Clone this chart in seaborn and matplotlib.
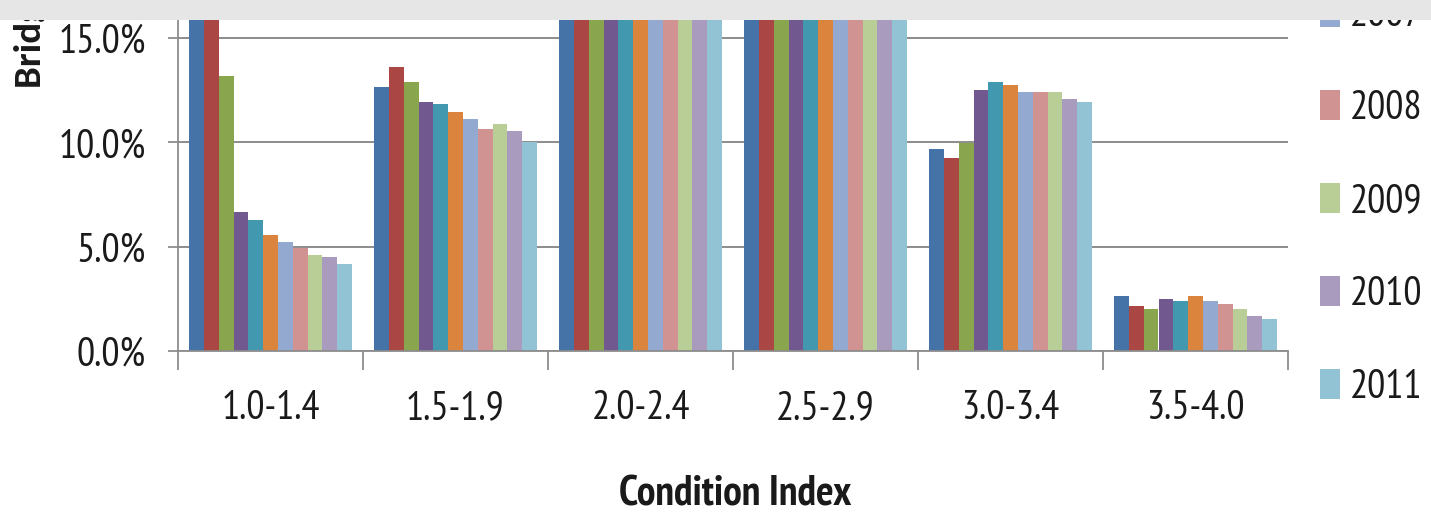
import matplotlib
matplotlib.use("Agg")
import matplotlib.pyplot as plt
from matplotlib import font_manager
from matplotlib.patches import Rectangle
from matplotlib.ticker import FuncFormatter, FixedLocator
import seaborn as sns
import pandas as pd

# ---- data ----
categories = ["1.0-1.4", "1.5-1.9", "2.0-2.4", "2.5-2.9", "3.0-3.4", "3.5-4.0"]
years = ["2001", "2002", "2003", "2004", "2005", "2006",
         "2007", "2008", "2009", "2010", "2011"]
y2001 = [18.5, 12.65, 24.0, 32.5, 9.70, 2.64]
y2002 = [16.9, 13.61, 25.0, 33.0, 9.24, 2.17]
y2003 = [13.19, 12.89, 27.0, 34.5, 9.96, 2.03]
y2004 = [6.67, 11.96, 30.0, 36.0, 12.53, 2.49]
y2005 = [6.30, 11.85, 30.5, 36.5, 12.89, 2.38]
y2006 = [5.58, 11.48, 31.0, 36.5, 12.77, 2.64]
y2007 = [5.23, 11.11, 31.5, 37.0, 12.41, 2.38]
y2008 = [4.94, 10.65, 32.0, 37.5, 12.41, 2.27]
y2009 = [4.62, 10.89, 32.0, 37.5, 12.41, 2.03]
y2010 = [4.51, 10.54, 32.5, 38.5, 12.07, 1.68]
y2011 = [4.17, 10.04, 33.0, 39.0, 11.94, 1.55]
yticks = [0, 5, 10, 15]
x_label = "Condition Index"
y_label = "Bridges (%)"

series = [y2001, y2002, y2003, y2004, y2005, y2006,
          y2007, y2008, y2009, y2010, y2011]
rows = []
for yr, vals in zip(years, series):
    for c, v in zip(categories, vals):
        rows.append({"cat": c, "year": yr, "val": v})
df = pd.DataFrame(rows)

colors = ["#4572A7", "#AA4643", "#89A54E", "#71588F", "#4198AF", "#DB843D",
          "#93A9CF", "#D19392", "#B9CD96", "#A99BBD", "#92C3D5"]

# ---- fonts ----
names = {f.name for f in font_manager.fontManager.ttflist}
font = "Liberation Sans"
for cand in ["PT Sans Narrow", "Asap Condensed", "Roboto Condensed",
             "Barlow Semi Condensed", "Archivo Narrow"]:
    if cand in names:
        font = cand
        break
if "Carlito" in names:
    ylab_font, ylab_size = "Carlito", 28
else:
    ylab_font, ylab_size = "Liberation Sans", 22

sns.set_style("white")
plt.rcParams["font.family"] = [font, "DejaVu Sans"]

FS = 29
W, H = 1431, 519
fig = plt.figure(figsize=(W / 100, H / 100), dpi=100)
ax_left, ax_right, ax_bottom, ax_top = 178, 1288, 351, 20
ax = fig.add_axes([ax_left / W, (H - ax_bottom) / H,
                   (ax_right - ax_left) / W, (ax_bottom - ax_top) / H])

sns.barplot(data=df, x="cat", y="val", hue="year", palette=colors,
            width=0.88, saturation=1, ax=ax, order=categories,
            hue_order=years, linewidth=0, gap=0)

handles, labels = ax.get_legend_handles_labels()
ax.get_legend().remove()

ax.set_xlim(-0.5, len(categories) - 0.5)
ax.set_ylim(0, (ax_bottom - ax_top) / 20.85)

grid_c = "#8C8C8C"
ax.yaxis.set_major_locator(FixedLocator(yticks))
ax.yaxis.set_major_formatter(FuncFormatter(lambda v, p: f"{v:.1f}%"))
ax.grid(axis="y", color=grid_c, linewidth=1.4)
ax.set_axisbelow(True)

for s in ["top", "right"]:
    ax.spines[s].set_visible(False)
for s in ["left", "bottom"]:
    ax.spines[s].set_color(grid_c)
    ax.spines[s].set_linewidth(1.3)

ax.tick_params(axis="y", which="major", length=7, width=1.3, color=grid_c,
               pad=16, labelsize=FS, labelcolor="#1a1a1a", left=True)
ax.set_xticks(range(len(categories)))
ax.set_xticklabels(categories)
ax.set_xticks([i - 0.5 for i in range(len(categories) + 1)], minor=True)
ax.tick_params(axis="x", which="major", length=0, pad=28, labelsize=FS,
               labelcolor="#1a1a1a")
ax.tick_params(axis="x", which="minor", length=14, width=1.3, color=grid_c,
               bottom=True)

ax.set_xlabel("")
ax.set_ylabel("")
fig.text(735 / W, (H - 495) / H, x_label, ha="center", va="center",
         fontsize=30, fontweight="bold", color="#1a1a1a")
fig.text(29.5 / W, (H - 88) / H, y_label, ha="center", va="bottom",
         rotation=90, fontsize=ylab_size, fontweight="bold", color="#1a1a1a",
         family=[ylab_font, "DejaVu Sans"])

fig.legend(handles, labels, loc="lower left",
           bbox_to_anchor=(1320 / W, (H - 406) / H), frameon=False,
           fontsize=FS, handlelength=0.5, handleheight=0.75,
           handletextpad=0.25, labelspacing=1.39, borderpad=0,
           borderaxespad=0, labelcolor="#1a1a1a")

fig.add_artist(Rectangle((0, 1 - 20 / H), 1, 20 / H, transform=fig.transFigure,
                         facecolor="#E6E6E6", edgecolor="none", zorder=20))

fig.savefig("out.png", dpi=100)
